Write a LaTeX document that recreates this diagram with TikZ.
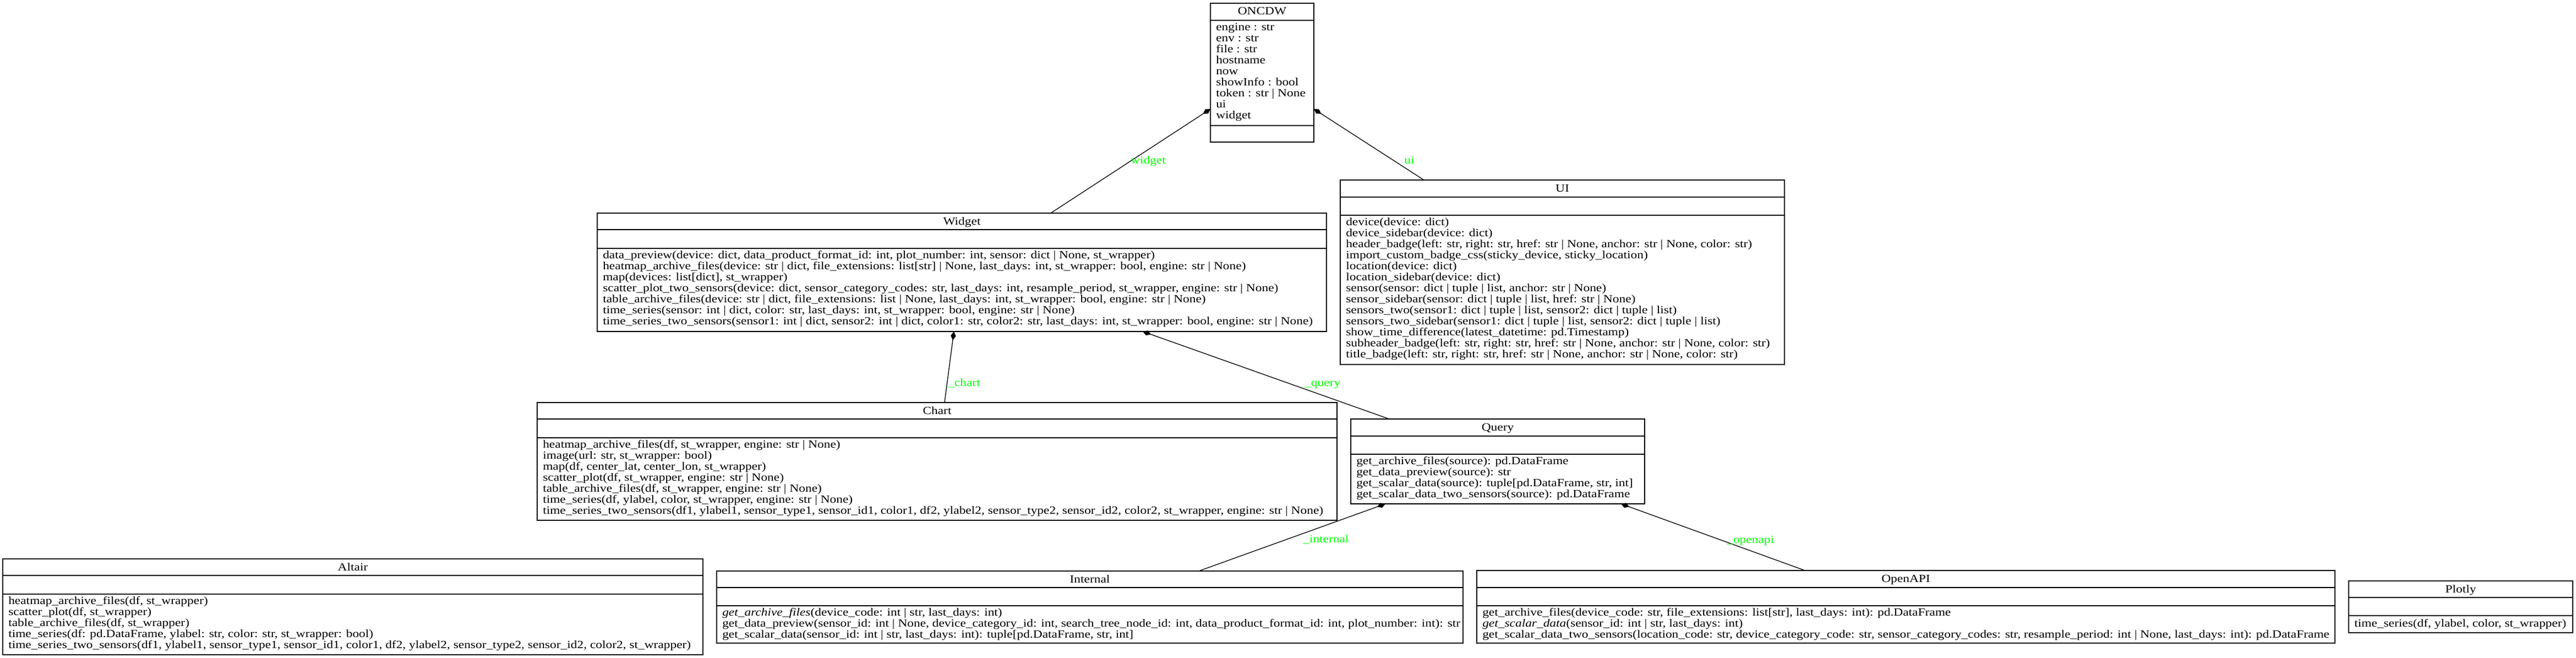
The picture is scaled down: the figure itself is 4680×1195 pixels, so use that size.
\documentclass[tikz,border=0pt]{standalone}
\usepackage{fontspec}
\setmainfont[FakeStretch=1.17]{Liberation Serif}
\usetikzlibrary{arrows.meta}
\definecolor{labelgreen}{RGB}{0,255,0}
\tikzset{
  boxline/.style={draw=black, line width=1pt},
  titletext/.style={anchor=base, inner sep=0pt, font=\fontsize{15pt}{15pt}\selectfont},
  membertext/.style={anchor=north west, inner sep=0pt, align=left, font=\fontsize{15pt}{15pt}\selectfont, execute at begin node={\rule{0pt}{12pt}}},
  edgelabel/.style={anchor=base west, inner sep=0pt, text=labelgreen, font=\fontsize{15pt}{15pt}\selectfont},
  composition/.style={draw=black, line width=1pt, -{Diamond[length=12pt,width=7pt]}},
}
% name, left, right, top, sep1, sep2, bottom, title, methods
% first member baseline = sep2 + 20 px; node top = baseline - 16 px (12pt strut)
\newcommand{\classbox}[9]{%
  \coordinate (#1-nw) at (#2,#4);
  \coordinate (#1-se) at (#3,#7);
  \draw[boxline] (#1-nw) rectangle (#1-se);
  \draw[boxline] (#2,#5) -- (#3,#5);
  \draw[boxline] (#2,#6) -- (#3,#6);
  \node[titletext] (#1-title) at ({(#2+#3)/2},{#4+21}) {#8};
  \node[membertext] (#1-methods) at ({#2+10},{#6+4}) {#9};
}
\begin{document}
\begin{tikzpicture}[x=0.75pt,y=-0.75pt]
\useasboundingbox (0,0) rectangle (4680,1195);

% ONCDW
\classbox{oncdw}{2199}{2387}{6}{37}{228}{258}{ONCDW}{}
\node[membertext] (oncdw-attrs) at (2209,42) {engine : str\\env : str\\file : str\\hostname\\now\\showInfo : bool\\token : str | None\\ui\\widget};

% Widget
\classbox{widget}{1085}{2410}{387}{417}{451}{602}{Widget}{%
data\_preview(device: dict, data\_product\_format\_id: int, plot\_number: int, sensor: dict | None, st\_wrapper)\\
heatmap\_archive\_files(device: str | dict, file\_extensions: list[str] | None, last\_days: int, st\_wrapper: bool, engine: str | None)\\
map(devices: list[dict], st\_wrapper)\\
scatter\_plot\_two\_sensors(device: dict, sensor\_category\_codes: str, last\_days: int, resample\_period, st\_wrapper, engine: str | None)\\
table\_archive\_files(device: str | dict, file\_extensions: list | None, last\_days: int, st\_wrapper: bool, engine: str | None)\\
time\_series(sensor: int | dict, color: str, last\_days: int, st\_wrapper: bool, engine: str | None)\\
time\_series\_two\_sensors(sensor1: int | dict, sensor2: int | dict, color1: str, color2: str, last\_days: int, st\_wrapper: bool, engine: str | None)}

% UI
\classbox{ui}{2435}{3242}{327}{358}{391}{662}{UI}{%
device(device: dict)\\
device\_sidebar(device: dict)\\
header\_badge(left: str, right: str, href: str | None, anchor: str | None, color: str)\\
import\_custom\_badge\_css(sticky\_device, sticky\_location)\\
location(device: dict)\\
location\_sidebar(device: dict)\\
sensor(sensor: dict | tuple | list, anchor: str | None)\\
sensor\_sidebar(sensor: dict | tuple | list, href: str | None)\\
sensors\_two(sensor1: dict | tuple | list, sensor2: dict | tuple | list)\\
sensors\_two\_sidebar(sensor1: dict | tuple | list, sensor2: dict | tuple | list)\\
show\_time\_difference(latest\_datetime: pd.Timestamp)\\
subheader\_badge(left: str, right: str, href: str | None, anchor: str | None, color: str)\\
title\_badge(left: str, right: str, href: str | None, anchor: str | None, color: str)}

% Chart
\classbox{chart}{976}{2429}{731}{761}{795}{945}{Chart}{%
heatmap\_archive\_files(df, st\_wrapper, engine: str | None)\\
image(url: str, st\_wrapper: bool)\\
map(df, center\_lat, center\_lon, st\_wrapper)\\
scatter\_plot(df, st\_wrapper, engine: str | None)\\
table\_archive\_files(df, st\_wrapper, engine: str | None)\\
time\_series(df, ylabel, color, st\_wrapper, engine: str | None)\\
time\_series\_two\_sensors(df1, ylabel1, sensor\_type1, sensor\_id1, color1, df2, ylabel2, sensor\_type2, sensor\_id2, color2, st\_wrapper, engine: str | None)}

% Query
\classbox{query}{2454}{2988}{761}{792}{825}{915}{Query}{%
get\_archive\_files(source): pd.DataFrame\\
get\_data\_preview(source): str\\
get\_scalar\_data(source): tuple[pd.DataFrame, str, int]\\
get\_scalar\_data\_two\_sensors(source): pd.DataFrame}

% Altair
\classbox{altair}{5}{1277}{1015}{1045}{1079}{1189}{Altair}{%
heatmap\_archive\_files(df, st\_wrapper)\\
scatter\_plot(df, st\_wrapper)\\
table\_archive\_files(df, st\_wrapper)\\
time\_series(df: pd.DataFrame, ylabel: str, color: str, st\_wrapper: bool)\\
time\_series\_two\_sensors(df1, ylabel1, sensor\_type1, sensor\_id1, color1, df2, ylabel2, sensor\_type2, sensor\_id2, color2, st\_wrapper)}

% Internal
\classbox{internal}{1302}{2658}{1037}{1067}{1100}{1168}{Internal}{%
\textit{get\_archive\_files}(device\_code: int | str, last\_days: int)\\
get\_data\_preview(sensor\_id: int | None, device\_category\_id: int, search\_tree\_node\_id: int, data\_product\_format\_id: int, plot\_number: int): str\\
get\_scalar\_data(sensor\_id: int | str, last\_days: int): tuple[pd.DataFrame, str, int]}

% OpenAPI
\classbox{openapi}{2683}{4242}{1036}{1067}{1100}{1168}{OpenAPI}{%
get\_archive\_files(device\_code: str, file\_extensions: list[str], last\_days: int): pd.DataFrame\\
\textit{get\_scalar\_data}(sensor\_id: int | str, last\_days: int)\\
get\_scalar\_data\_two\_sensors(location\_code: str, device\_category\_code: str, sensor\_category\_codes: str, resample\_period: int | None, last\_days: int): pd.DataFrame}

% Plotly
\classbox{plotly}{4267}{4674}{1055}{1085}{1118}{1149}{Plotly}{%
time\_series(df, ylabel, color, st\_wrapper)}

% connector end points
\coordinate (widget-up) at (1909,387);
\coordinate (oncdw-left) at (2199,198);
\coordinate (ui-up) at (2587,327);
\coordinate (oncdw-right) at (2387,198);
\coordinate (chart-up) at (1716,731);
\coordinate (widget-down1) at (1733,602);
\coordinate (query-up) at (2524,761);
\coordinate (widget-down2) at (2076,602);
\coordinate (internal-up) at (2178,1037);
\coordinate (query-down1) at (2517,915);
\coordinate (openapi-up) at (3279,1036);
\coordinate (query-down2) at (2945,915);

\draw[composition] (widget-up) -- (oncdw-left);
\draw[composition] (ui-up) -- (oncdw-right);
\draw[composition] (chart-up) -- (widget-down1);
\draw[composition] (query-up) -- (widget-down2);
\draw[composition] (internal-up) -- (query-down1);
\draw[composition] (openapi-up) -- (query-down2);

\node[edgelabel] (lbl-widget) at (2054,297) {widget};
\node[edgelabel] (lbl-ui) at (2551,297) {ui};
\node[edgelabel] (lbl-chart) at (1722,701) {\_chart};
\node[edgelabel] (lbl-query) at (2370,701) {\_query};
\node[edgelabel] (lbl-internal) at (2367,985) {\_internal};
\node[edgelabel] (lbl-openapi) at (3137,986) {\_openapi};
\end{tikzpicture}
\end{document}
